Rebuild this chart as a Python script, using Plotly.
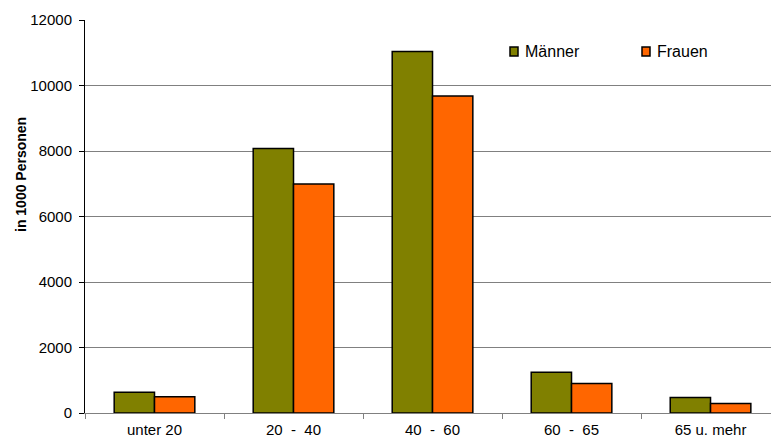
import plotly.graph_objects as go

categories = ["unter 20", "20  -  40", "40  -  60", "60  -  65", "65 u. mehr"]
maenner = [630, 8080, 11040, 1245, 470]
frauen = [500, 6990, 9680, 900, 290]
series_names = ["Männer", "Frauen"]
colors = ["#808000", "#FF6600"]

FONT = "Liberation Sans, Arial, sans-serif"

fig = go.Figure()
for name, vals, col in zip(series_names, [maenner, frauen], colors):
    fig.add_trace(go.Bar(
        x=categories, y=vals, name=name,
        marker=dict(color=col, line=dict(color="black", width=1.5)),
        showlegend=False,
    ))

# manual legend (squares + text)
L, R, T, B = 85, 771, 20, 413
W, H = R - L, B - T
def px(x):
    return (x - L) / W
def py(y):
    return (B - y) / H

legend_items = [(510, 523, series_names[0], colors[0]), (642, 655, series_names[1], colors[1])]
shapes = []
annotations = []
for sx, tx, name, col in legend_items:
    shapes.append(dict(type="rect", xref="paper", yref="paper",
                       x0=px(sx), x1=px(sx + 8), y0=py(56), y1=py(47),
                       fillcolor=col, line=dict(color="black", width=1.5)))
    annotations.append(dict(xref="paper", yref="paper", x=px(tx), y=py(51.5),
                            xanchor="left", yanchor="middle", showarrow=False,
                            text=name, font=dict(family=FONT, size=16, color="black")))

annotations.append(dict(xref="paper", yref="paper", x=px(21), y=py(175),
                        xanchor="center", yanchor="middle", showarrow=False,
                        textangle=-90, text="<b>in 1000 Personen</b>",
                        font=dict(family=FONT, size=14, color="black")))

fig.update_layout(
    width=771, height=437,
    margin=dict(l=L, r=771 - R, t=T, b=437 - B),
    paper_bgcolor="white", plot_bgcolor="white",
    barmode="group", bargap=0.42, bargroupgap=0,
    font=dict(family=FONT, size=14, color="black"),
    shapes=shapes, annotations=annotations,
    showlegend=False,
)
fig.update_xaxes(
    range=[-0.5, 4.435], showgrid=False, showline=True, linecolor="#808080", linewidth=1,
    ticks="outside", tickson="boundaries", ticklen=5, tickcolor="#808080",
    ticklabelstandoff=3,
    tickfont=dict(family=FONT, size=15, color="black"), fixedrange=True,
)
fig.update_yaxes(
    range=[0, 12000], dtick=2000, tickformat="d", showgrid=True, gridcolor="#808080", gridwidth=1,
    showline=True, linecolor="black", linewidth=1, zeroline=False,
    ticks="outside", ticklen=5, tickcolor="black", ticklabelstandoff=4,
    tickfont=dict(family=FONT, size=15, color="black"),
)

fig.write_html("out.html")
